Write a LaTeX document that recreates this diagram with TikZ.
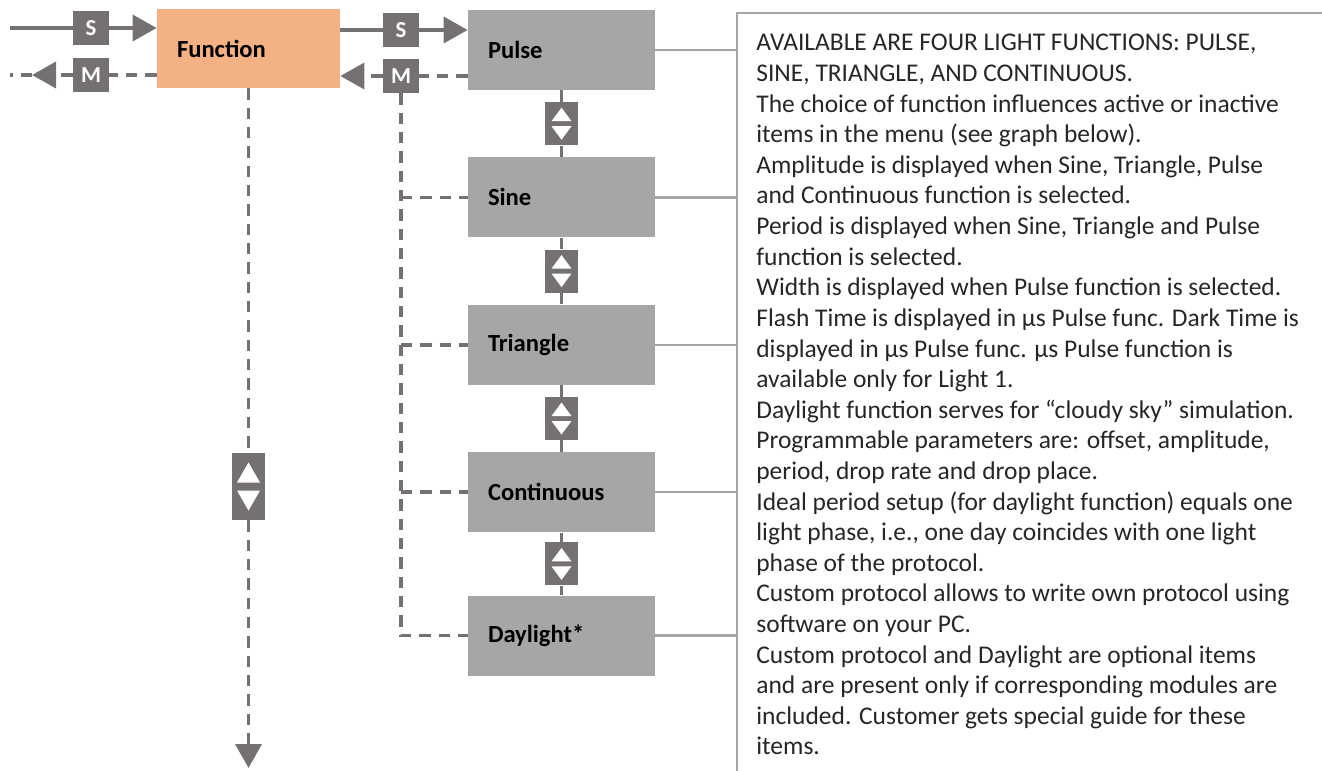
\documentclass[tikz,border=0pt]{standalone}
\usepackage{fontspec}
\setmainfont{Carlito}
\usepackage{tikz}
\usetikzlibrary{positioning}
\usetikzlibrary{arrows.meta}
\definecolor{keygray}{HTML}{767171}
\definecolor{boxgray}{HTML}{A6A6A6}
\definecolor{funcorange}{HTML}{F4B183}
\tikzset{
  menu_item/.style = {rectangle, align=left, inner ysep=0pt,
    font=\bfseries\fontsize{14}{16}\selectfont},
  func_node/.style = {menu_item, fill=funcorange, text width=2.86cm,
    inner xsep=0.4cm, minimum height=1.58cm},% menu principal
  menu_node/.style = {menu_item, fill=boxgray, text width=2.94cm,
    inner xsep=0.4cm, minimum height=1.6cm},% sous-menu
  key_node/.style = {rectangle, fill=keygray, text=white, inner sep=0pt,
    font=\bfseries\fontsize{13}{15}\selectfont,
    minimum width=0.72cm, minimum height=0.68cm},% touche S ou M
  updown_node/.style = {rectangle, fill=keygray, inner sep=0pt,
    minimum width=0.66cm, minimum height=0.86cm},% touches haut/bas
  fwd_line/.style = {draw=keygray, line width=2.1pt},
  back_line/.style = {draw=keygray, line width=2.1pt,
    dash pattern=on 6.5pt off 4.5pt},
  tri_tip/.style = {-{Triangle[length=0.48cm,width=0.52cm]}},
  info_line/.style = {draw=boxgray, line width=1.4pt},
  info_text/.style = {align=left, inner sep=0pt, text=black!85,
    font=\fontsize{14.5}{17.42}\selectfont}
}
\begin{document}
\begin{tikzpicture}
  \useasboundingbox (0,0) rectangle (26.44,-15.42);
  % menu Function et touches
  \node [func_node] (func) at (4.97,-0.97) {Function};
  \node [key_node] (s_in) at (1.82,-0.56) {S};
  \node [key_node] (m_out) at (1.82,-1.50) {M};
  \node [key_node] (s_fwd) at (8.02,-0.60) {S};
  \node [key_node] (m_back) at (8.02,-1.52) {M};
  % sous-menu des fonctions
  \node [menu_node] (pulse) at (11.23,-1.0) {Pulse};
  \node [updown_node, below=0.23cm of pulse] (ud1) {};
  \node [menu_node, below=0.23cm of ud1] (sine) {Sine};
  \node [updown_node, below=0.23cm of sine] (ud2) {};
  \node [menu_node, below=0.23cm of ud2] (tri) {Triangle};
  \node [updown_node, below=0.23cm of tri] (ud3) {};
  \node [menu_node, below=0.23cm of ud3] (cont) {Continuous};
  \node [updown_node, below=0.19cm of cont] (ud4) {};
  \node [menu_node, below=0.19cm of ud4] (day) {Daylight*};
  \node [updown_node, minimum height=1.34cm] (ud0) at (func.south |- 0,-9.73) {};
  \coordinate (in_start) at (0.2,-0.56);
  \coordinate (out_tip) at (0.64,-1.50);
  \coordinate (out_end) at (0.2,-1.50);
  \coordinate (func_end) at (func.south |- 0,-15.36);
  % touches S et M
  \draw [fwd_line] (in_start) -- (s_in);
  \draw [fwd_line, tri_tip] (s_in) -- (s_in -| func.west);
  \draw [fwd_line] (s_fwd -| func.east) -- (s_fwd);
  \draw [fwd_line, tri_tip] (s_fwd) -- (s_fwd -| pulse.west);
  \draw [back_line] (m_out -| func.west) -- (m_out);
  \draw [back_line, tri_tip] (m_out) -- (out_tip);
  \draw [back_line] (out_tip) -- (out_end);
  \draw [back_line] (m_back -| pulse.west) -- (m_back);
  \draw [back_line, tri_tip] (m_back) -- (m_back -| func.east);
  \draw [back_line] (m_back.south) |- (day.west);
  \foreach \n in {sine,tri,cont}
    \draw [back_line] (m_back.south |- \n.west) -- (\n.west);
  \draw [back_line] (func) -- (ud0);
  \draw [back_line, tri_tip] (ud0) -- (func_end);
  % touches haut/bas
  \draw [draw=keygray, line width=1.4pt] (pulse) -- (ud1) -- (sine) -- (ud2)
    -- (tri) -- (ud3) -- (cont) -- (ud4) -- (day);
  \foreach \u in {ud1,ud2,ud3,ud4} {
    \fill [white] ([shift={(-0.2,0.05)}]\u.center) -- ++(0.4,0) -- ++(-0.2,0.27) -- cycle;
    \fill [white] ([shift={(-0.2,-0.05)}]\u.center) -- ++(0.4,0) -- ++(-0.2,-0.27) -- cycle;
  }
  \fill [white] ([shift={(-0.23,0.08)}]ud0.center) -- ++(0.46,0) -- ++(-0.23,0.4) -- cycle;
  \fill [white] ([shift={(-0.23,-0.08)}]ud0.center) -- ++(0.46,0) -- ++(-0.23,-0.4) -- cycle;
  % texte explicatif
  \coordinate (info_top) at (14.74,-0.26);
  \coordinate (info_bot) at (14.74,-15.42);
  \coordinate (info_end) at (26.44,-0.26);
  \draw [info_line] (info_end) -- (info_top) -- (info_bot);
  \foreach \n in {pulse,sine,tri,cont,day}
    \draw [info_line] (\n) -- (\n -| info_top);
  \node [info_text, anchor=north west] (info) at (15.12,-0.68) {%
    AVAILABLE ARE FOUR LIGHT FUNCTIONS: PULSE,\\
    SINE, TRIANGLE, AND CONTINUOUS.\\
    The choice of function influences active or inactive\\
    items in the menu (see graph below).\\
    Amplitude is displayed when Sine, Triangle, Pulse\\
    and Continuous function is selected.\\
    Period is displayed when Sine, Triangle and Pulse\\
    function is selected.\\
    Width is displayed when Pulse function is selected.\\
    Flash Time is displayed in µs Pulse func. Dark Time is\\
    displayed in µs Pulse func. µs Pulse function is\\
    available only for Light 1.\\
    Daylight function serves for “cloudy sky” simulation.\\
    Programmable parameters are: offset, amplitude,\\
    period, drop rate and drop place.\\
    Ideal period setup (for daylight function) equals one\\
    light phase, i.e., one day coincides with one light\\
    phase of the protocol.\\
    Custom protocol allows to write own protocol using\\
    software on your PC.\\
    Custom protocol and Daylight are optional items\\
    and are present only if corresponding modules are\\
    included. Customer gets special guide for these\\
    items.};
\end{tikzpicture}
\end{document}
